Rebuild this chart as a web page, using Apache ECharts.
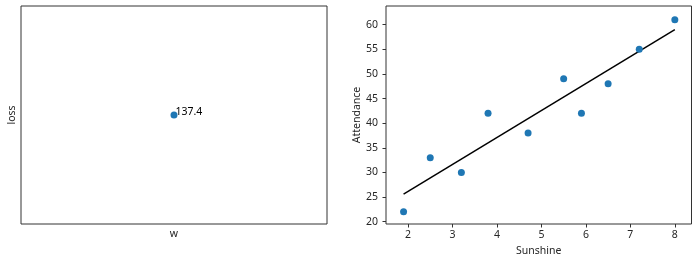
<!DOCTYPE html>
<html><head><meta charset="utf-8">
<script src="https://cdn.jsdelivr.net/npm/echarts@6/dist/echarts.min.js"></script>
<style>html,body{margin:0;padding:0;background:#fff}#c{width:697px;height:262px}</style>
</head><body><div id="c"></div>
<script>
// Left panel: single loss point
const lossW = [0];
const lossValues = [137.4];
const lossLabels = ['137.4'];
// Right panel: scatter + fitted line
const sunshine = [1.9, 2.5, 3.2, 3.8, 4.7, 5.5, 5.9, 6.5, 7.2, 8.0];
const attendance = [22, 33, 30, 42, 38, 49, 42, 48, 55, 61];
const fitX = [1.9, 8.0];
const fitY = [25.6, 59.0];
const xTicks = [2, 3, 4, 5, 6, 7, 8];
const yTicks = [20, 25, 30, 35, 40, 45, 50, 55, 60];

const FONT = 'Noto Sans';
const FS = 10.5;
const TXT = '#262626';
const chart = echarts.init(document.getElementById('c'), null, {renderer: 'canvas'});
const gridCommon = {show: true, borderColor: '#333', borderWidth: 1, backgroundColor: '#fff', containLabel: false};
chart.setOption({
  animation: false,
  textStyle: {fontFamily: FONT},
  grid: [
    Object.assign({left: 21, right: 370, top: 6, bottom: 38}, gridCommon),
    Object.assign({left: 386, right: 5.5, top: 6, bottom: 38}, gridCommon)
  ],
  xAxis: [
    {type: 'value', gridIndex: 0, min: -1, max: 1, name: 'w', nameLocation: 'middle', nameGap: 5,
     nameTextStyle: {color: TXT, fontSize: FS, fontFamily: FONT},
     axisLine: {show: false}, axisTick: {show: false}, axisLabel: {show: false}, splitLine: {show: false}},
    {type: 'value', gridIndex: 1, min: 1.505, max: 8.375, name: 'Sunshine', nameLocation: 'middle', nameGap: 20,
     nameTextStyle: {color: TXT, fontSize: FS, fontFamily: FONT},
     axisLine: {show: false},
     axisTick: {show: true, length: 3.5, inside: false, lineStyle: {color: '#333'}, customValues: xTicks},
     axisLabel: {show: true, color: TXT, fontSize: FS, fontFamily: FONT, margin: 6, customValues: xTicks,
                 showMinLabel: true, showMaxLabel: true},
     splitLine: {show: false}}
  ],
  yAxis: [
    {type: 'value', gridIndex: 0, min: 137.4 - 1, max: 137.4 + 1, name: 'loss', nameLocation: 'middle', nameGap: 3,
     nameTextStyle: {color: TXT, fontSize: FS, fontFamily: FONT},
     axisLine: {show: false}, axisTick: {show: false}, axisLabel: {show: false}, splitLine: {show: false}},
    {type: 'value', gridIndex: 1, min: 19.53, max: 63.78, name: 'Attendance', nameLocation: 'middle', nameGap: 23,
     nameTextStyle: {color: TXT, fontSize: FS, fontFamily: FONT},
     axisLine: {show: false},
     axisTick: {show: true, length: 3.5, inside: false, lineStyle: {color: '#333'}, customValues: yTicks},
     axisLabel: {show: true, color: TXT, fontSize: FS, fontFamily: FONT, margin: 8, customValues: yTicks},
     splitLine: {show: false}}
  ],
  series: [
    {type: 'scatter', xAxisIndex: 0, yAxisIndex: 0, symbolSize: 7, itemStyle: {color: '#1f77b4', opacity: 1},
     data: lossW.map((w, i) => [w, lossValues[i]]),
     label: {show: true, position: 'right', distance: -2, offset: [0, -3], color: '#000', fontSize: FS, fontFamily: FONT,
             formatter: p => lossLabels[p.dataIndex]}},
    {type: 'line', xAxisIndex: 1, yAxisIndex: 1, symbol: 'none', lineStyle: {color: '#000', width: 1.5},
     data: fitX.map((x, i) => [x, fitY[i]]), z: 2},
    {type: 'scatter', xAxisIndex: 1, yAxisIndex: 1, symbolSize: 7, itemStyle: {color: '#1f77b4', opacity: 1},
     data: sunshine.map((x, i) => [x, attendance[i]]), z: 3}
  ]
});
</script></body></html>
